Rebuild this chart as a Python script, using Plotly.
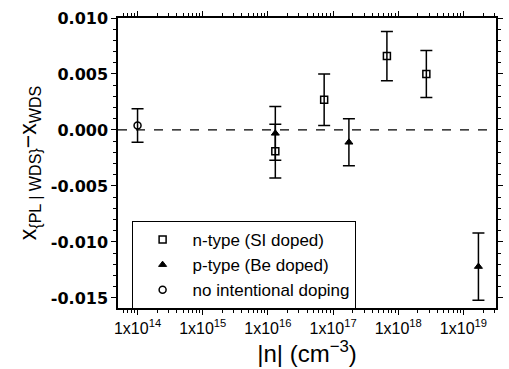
import plotly.graph_objects as go

# n-type (Si doped)
n_x = [1.3e16, 7.3e16, 6.7e17, 2.7e18]
n_y = [-0.0019, 0.0027, 0.0066, 0.0050]
n_err = [0.0024, 0.0023, 0.0022, 0.0021]

# p-type (Be doped)
p_x = [1.3e16, 1.75e17, 1.7e19]
p_y = [-0.0003, -0.0011, -0.0122]
p_err = [0.0024, 0.0021, 0.0030]

# no intentional doping
u_x = [1.0e14]
u_y = [0.0004]
u_err = [0.0015]

x_tickvals = [1e14, 1e15, 1e16, 1e17, 1e18, 1e19]
x_ticktext = ["1x10<sup>14</sup>", "1x10<sup>15</sup>", "1x10<sup>16</sup>",
              "1x10<sup>17</sup>", "1x10<sup>18</sup>", "1x10<sup>19</sup>"]
y_tickvals = [0.010, 0.005, 0.000, -0.005, -0.010, -0.015]
y_ticktext = ["0.010", "0.005", "0.000", "-0.005", "-0.010", "-0.015"]

fig = go.Figure()

def add(x, y, err, name, symbol, size, lw):
    fig.add_trace(go.Scatter(
        x=x, y=y, mode="markers", name=name,
        marker=dict(symbol=symbol, size=size, color="black",
                    line=dict(color="black", width=lw)),
        error_y=dict(type="data", array=err, visible=True, color="black",
                     thickness=1.5, width=6),
    ))

add(n_x, n_y, n_err, "n-type (SI doped)", "square-open", 7, 1.5)
add(p_x, p_y, p_err, "p-type (Be doped)", "triangle-up", 7, 1)
add(u_x, u_y, u_err, "no intentional doping", "circle-open", 7, 1.5)

fig.add_shape(type="line", xref="paper", yref="y", x0=0, x1=1, y0=0, y1=0,
              line=dict(color="black", width=1.3, dash="dash"), layer="below")

minor_x = [float(m) * 10.0 ** e for e in range(13, 20) for m in range(2, 10)]

fig.update_layout(
    width=509, height=369,
    margin=dict(l=118, r=6, t=18, b=61),
    plot_bgcolor="white", paper_bgcolor="white",
    showlegend=True,
    legend=dict(x=0.036, y=0.30, xanchor="left", yanchor="top",
                bordercolor="black", borderwidth=1, bgcolor="white",
                font=dict(family="Liberation Sans, Arial", size=17, color="black"),
                tracegroupgap=0, itemsizing="trace", itemwidth=50),
    font=dict(family="Liberation Sans, Arial", color="black"),
)

fig.update_xaxes(
    type="log", range=[13.7, 19.5],
    tickvals=x_tickvals, ticktext=x_ticktext,
    tickfont=dict(family="Liberation Sans, Arial", size=16, color="black"),
    ticks="outside", ticklen=5, tickwidth=1.3, tickcolor="black",
    minor=dict(ticks="outside", ticklen=3, tickcolor="black", tickvals=minor_x),
    showline=True, linecolor="black", linewidth=1.5, mirror="allticks",
    showgrid=False, zeroline=False,
    title=dict(text="|n| (cm<sup>−3</sup>)", standoff=4,
               font=dict(family="Liberation Sans, Arial", size=24, color="black")),
)

fig.update_yaxes(
    range=[-0.0159, 0.0100],
    tickvals=y_tickvals, ticktext=y_ticktext,
    tickfont=dict(family="DejaVu Sans", size=16, color="black", weight="bold"),
    ticks="outside", ticklen=5, tickwidth=1.3, tickcolor="black",
    minor=dict(ticks="outside", ticklen=3, tickcolor="black", dtick=0.001),
    showline=True, linecolor="black", linewidth=1.5, mirror="allticks",
    showgrid=False, zeroline=False,
    title=dict(text="x<sub>{PL | WDS}</sub>−x<sub>WDS</sub>", standoff=8,
               font=dict(family="Liberation Sans, Arial", size=23, color="black")),
)

fig.write_html("out.html")
